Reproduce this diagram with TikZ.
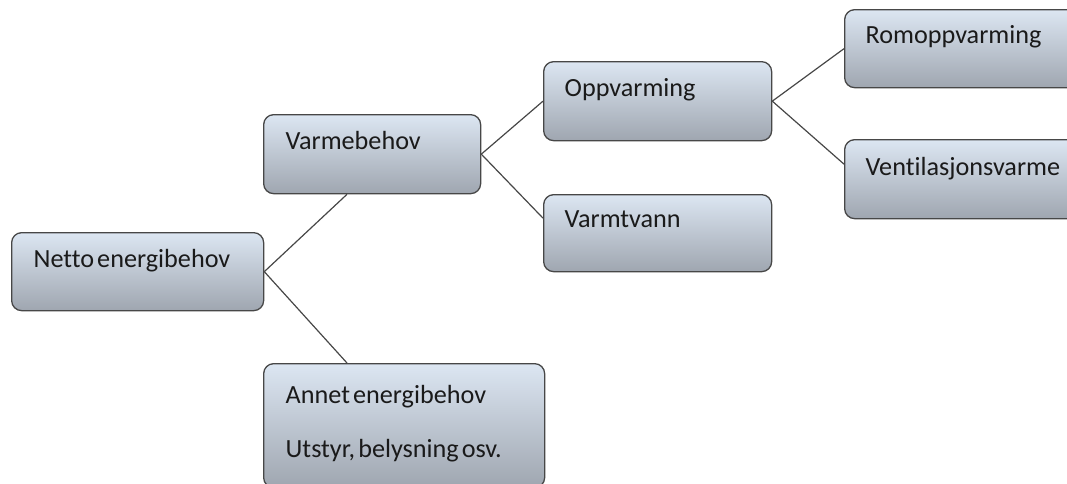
\documentclass[tikz,border=0pt]{standalone}
\usepackage{fontspec}
\setmainfont[Ligatures=NoCommon]{Carlito}
\definecolor{boxtop}{HTML}{DCE6F2}
\definecolor{boxbot}{HTML}{9FA6B0}
\definecolor{edge}{HTML}{474747}
\definecolor{txt}{HTML}{1A1A1A}
\tikzset{
  boxnode/.style={anchor=north west, draw=edge, line width=1.3pt, rounded corners=10pt,
    top color=boxtop, bottom color=boxbot, shading angle=0,
    inner xsep=22pt, inner ysep=0pt, align=left, text=txt,
    font=\fontsize{26.2}{30}\selectfont, text height=35pt,
    execute at begin node={\spaceskip=3pt\relax\xspaceskip=3pt\relax}},
  link/.style={draw=edge, line width=1.2pt}
}
\begin{document}
\begin{tikzpicture}[x=1pt,y=-1pt]
\useasboundingbox (0,0) rectangle (1067,483);
\clip (0,0) rectangle (1067,483);
\node[boxnode, text width=208pt, text depth=43pt] (ne) at (11,232) {Netto energibehov};
\node[boxnode, text width=173pt, text depth=44pt] (vb) at (263,114) {Varmebehov};
\node[boxnode, text width=237pt, text height=40pt, text depth=84pt] (an) at (263,363) {Annet energibehov\\[24pt]Utstyr, belysning osv.};
\node[boxnode, text width=186pt, text depth=44pt, inner xsep=21pt] (op) at (543,61) {Oppvarming};
\node[boxnode, text width=186pt, text depth=44pt, inner xsep=21pt, text height=33pt] (vt) at (543,194) {Varmtvann};
\node[boxnode, text width=220pt, text depth=44pt, inner xsep=21pt, text height=34pt] (ro) at (844,9) {Romoppvarming};
\node[boxnode, text width=220pt, text depth=43pt, inner xsep=21pt, text height=36pt] (ve) at (844,139) {Ventilasjonsvarme};
\draw[link] (ne.east) -- ([xshift=84pt]vb.south west);
\draw[link] (ne.east) -- ([xshift=84pt]an.north west);
\draw[link] (vb.east) -- (op.west);
\draw[link] (vb.east) -- ([yshift=15pt]vt.west);
\draw[link] (op.east) -- (ro.west);
\draw[link] (op.east) -- ([yshift=15pt]ve.west);
\end{tikzpicture}
\end{document}
